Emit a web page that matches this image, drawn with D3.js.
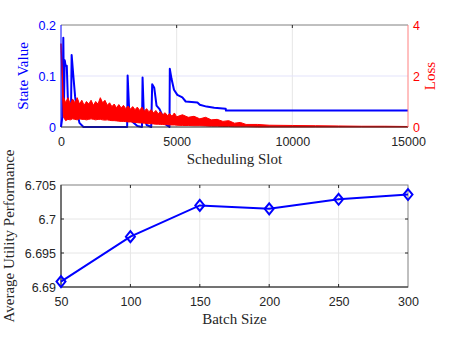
<!DOCTYPE html>
<html>
<head>
<meta charset="utf-8">
<script src="https://cdn.jsdelivr.net/npm/d3@7"></script>
<style>
  body { margin: 0; background: #fff; }
  svg text { font-family: "Liberation Sans", Arial, sans-serif; }
  .lbl { font-family: "Liberation Serif", "DejaVu Serif", serif; }
</style>
</head>
<body>
<div id="chart"></div>
<script>
// state value (blue, left axis)
var stateSlot  = [0, 60, 100, 130, 160, 200, 250, 300, 390, 430, 460, 536, 609, 681, 797, 971,
                  2860, 2880, 2950, 3100, 3300, 3500, 3526, 3583, 3700, 3900, 3942, 4030, 4130,
                  4260, 4400, 4550, 4690, 4704, 4780, 4884, 5029, 5246, 5391, 5898, 6000, 6290,
                  6623, 7121, 7130, 15000]
var stateValue = [0, 0.02, 0.175, 0.05, 0.131, 0.12, 0.12, 0.05, 0.03, 0.02, 0.141, 0.099, 0.06,
                  0.034, 0.008, 0, 0, 0.101, 0.03, 0.01, 0.002, 0, 0.097, 0.021, 0.004, 0, 0.084,
                  0.077, 0.042, 0.035, 0.021, 0.004, 0, 0.114, 0.094, 0.073, 0.063, 0.058, 0.05,
                  0.048, 0.0435, 0.04, 0.0377, 0.0357, 0.0322, 0.0322]

// loss (red, right axis): upper / lower edge of the oscillating band
var lossSlot = [0, 100, 200, 300, 400, 500, 600, 700, 800, 900, 1000, 1100, 1200, 1300, 1400,
                1500, 1600, 1700, 1800, 1900, 2000, 2100, 2200, 2300, 2400, 2500, 2600, 2700,
                2800, 2900, 3000, 3100, 3200, 3300, 3400, 3500, 3600, 3700, 3800, 3900, 4000,
                4100, 4200, 4300, 4400, 4500, 4600, 4700, 4800, 4900, 5000, 5250, 5500, 5750,
                6000, 6250, 6500, 6750, 7000, 7250, 7500, 7750, 8000, 8500, 9000, 10000, 11000,
                12000, 13000, 14000, 15000]
var lossHi   = [3.27, 1.2, 0.95, 1.15, 0.9, 1.1, 0.95, 1.15, 0.9, 1.05, 0.85, 1.0, 0.9, 1.05, 0.85,
                1.0, 0.9, 1.15, 0.95, 1.05, 0.85, 0.95, 0.8, 0.9, 0.75, 0.88, 0.75, 0.85,
                0.72, 0.82, 0.7, 0.8, 0.68, 0.78, 0.65, 0.78, 0.62, 0.72, 0.6, 0.68, 0.55,
                0.65, 0.52, 0.6, 0.48, 0.56, 0.45, 0.52, 0.42, 0.55, 0.4, 0.48, 0.38, 0.42,
                0.32, 0.38, 0.28, 0.3, 0.22, 0.25, 0.15, 0.18, 0.1, 0.1, 0.07, 0.06, 0.05,
                0.04, 0.03, 0.03, 0.02]
var lossLo   = [3.0, 0.4, 0.25, 0.3, 0.28, 0.32, 0.3, 0.28, 0.32, 0.3, 0.3, 0.28, 0.3, 0.32, 0.3,
                0.28, 0.3, 0.3, 0.28, 0.27, 0.28, 0.26, 0.25, 0.25, 0.24, 0.23, 0.22, 0.22,
                0.21, 0.2, 0.2, 0.19, 0.18, 0.17, 0.16, 0.16, 0.15, 0.14, 0.13, 0.13, 0.12,
                0.11, 0.11, 0.1, 0.1, 0.09, 0.09, 0.08, 0.08, 0.08, 0.07, 0.06, 0.06, 0.05,
                0.05, 0.04, 0.03, 0.03, 0.02, 0.02, 0.01, 0.01, 0.01, 0, 0, 0, 0,
                0, 0, 0, 0]

// bottom panel
var batchSize = [50, 100, 150, 200, 250, 300]
var utility   = [6.6908, 6.6974, 6.7020, 6.7015, 6.7029, 6.7036]

var topXTicks = [0, 5000, 10000, 15000]
var stateTicks = [0, 0.1, 0.2]
var lossTicks = [0, 2, 4]
var batchTicks = [50, 100, 150, 200, 250, 300]
var utilTicks = [6.69, 6.695, 6.7, 6.705]

var W = 451, H = 338
var blue = '#0000ff', red = '#ff0000', dark = '#262626', grid = '#e6e6e6'

var svg = d3.select('#chart').append('svg')
  .attr('width', W)
  .attr('height', H)

var left = 61, right = 408

// ---------- top panel ----------
var t = { top: 25, bottom: 127 }
var xTop = d3.scaleLinear().domain([0, 15000]).range([left, right])
var yState = d3.scaleLinear().domain([0, 0.2]).range([t.bottom, t.top])
var yLoss = d3.scaleLinear().domain([0, 4]).range([t.bottom, t.top])

var g1 = svg.append('g')

// grid
g1.selectAll('.vg').data(topXTicks.slice(1, -1)).enter().append('line')
  .attr('x1', function(d) { return xTop(d) }).attr('x2', function(d) { return xTop(d) })
  .attr('y1', t.top).attr('y2', t.bottom)
  .attr('stroke', grid).attr('stroke-width', 1)
g1.selectAll('.hg').data([0.1]).enter().append('line')
  .attr('x1', left).attr('x2', right)
  .attr('y1', function(d) { return yState(d) }).attr('y2', function(d) { return yState(d) })
  .attr('stroke', '#e3e3fb').attr('stroke-width', 1)

// state value line
g1.append('path')
  .datum(stateSlot.map(function(s, i) { return [s, stateValue[i]] }))
  .attr('fill', 'none').attr('stroke', blue).attr('stroke-width', 2)
  .attr('stroke-linejoin', 'round')
  .attr('d', d3.line()
    .x(function(d) { return xTop(d[0]) })
    .y(function(d) { return yState(d[1]) }))

// loss band
var lossData = lossSlot.map(function(s, i) { return { s: s, hi: lossHi[i], lo: lossLo[i] } })
g1.append('path')
  .datum(lossData)
  .attr('fill', red).attr('stroke', red).attr('stroke-width', 1)
  .attr('d', d3.area()
    .x(function(d) { return xTop(d.s) })
    .y0(function(d) { return yLoss(d.lo) })
    .y1(function(d) { return yLoss(d.hi) }))

// box
g1.append('line').attr('x1', left).attr('x2', right).attr('y1', t.top).attr('y2', t.top)
  .attr('stroke', '#808080')
g1.append('line').attr('x1', left).attr('x2', right).attr('y1', t.bottom).attr('y2', t.bottom)
  .attr('stroke', dark)
g1.append('line').attr('x1', left).attr('x2', left).attr('y1', t.top).attr('y2', t.bottom)
  .attr('stroke', blue)
g1.append('line').attr('x1', right).attr('x2', right).attr('y1', t.top).attr('y2', t.bottom)
  .attr('stroke', '#ff8080')

// axes
var xAxisTop = d3.axisBottom(xTop).tickValues(topXTicks).tickFormat(d3.format('d')).tickSize(0).tickPadding(10)
g1.append('g').attr('transform', 'translate(0,' + t.bottom + ')').call(xAxisTop)
  .call(function(a) {
    a.select('.domain').remove()
    a.selectAll('text').attr('fill', dark).style('font-size', '12.5px')
  })
var yAxisState = d3.axisLeft(yState).tickValues(stateTicks).tickFormat(d3.format('')).tickSize(0).tickPadding(5)
g1.append('g').attr('transform', 'translate(' + left + ',0)').call(yAxisState)
  .call(function(a) {
    a.select('.domain').remove()
    a.selectAll('text').attr('fill', blue).style('font-size', '12.5px')
  })
var yAxisLoss = d3.axisRight(yLoss).tickValues(lossTicks).tickFormat(d3.format('d')).tickSize(0).tickPadding(5)
g1.append('g').attr('transform', 'translate(' + right + ',0)').call(yAxisLoss)
  .call(function(a) {
    a.select('.domain').remove()
    a.selectAll('text').attr('fill', red).style('font-size', '12.5px')
  })
// small tick marks
topXTicks.slice(1, -1).forEach(function(d) {
  g1.append('line').attr('x1', xTop(d)).attr('x2', xTop(d)).attr('y1', t.top).attr('y2', t.top + 3).attr('stroke', dark)
})

svg.append('text').attr('class', 'lbl')
  .attr('x', (left + right) / 2).attr('y', 164)
  .attr('text-anchor', 'middle').attr('fill', dark).style('font-size', '15px')
  .text('Scheduling Slot')
svg.append('text').attr('class', 'lbl')
  .attr('transform', 'translate(28,' + ((t.top + t.bottom) / 2) + ') rotate(-90)')
  .attr('text-anchor', 'middle').attr('fill', blue).style('font-size', '15px')
  .text('State Value')
svg.append('text').attr('class', 'lbl')
  .attr('transform', 'translate(435,' + ((t.top + t.bottom) / 2) + ') rotate(-90)')
  .attr('text-anchor', 'middle').attr('fill', red).style('font-size', '15px')
  .text('Loss')

// ---------- bottom panel ----------
var b = { top: 185, bottom: 287 }
var xB = d3.scaleLinear().domain([50, 300]).range([left, right])
var yB = d3.scaleLinear().domain([6.69, 6.705]).range([b.bottom, b.top])

var g2 = svg.append('g')
g2.selectAll('.vg').data(batchTicks.slice(1, -1)).enter().append('line')
  .attr('x1', function(d) { return xB(d) }).attr('x2', function(d) { return xB(d) })
  .attr('y1', b.top).attr('y2', b.bottom)
  .attr('stroke', grid)
g2.selectAll('.hg').data(utilTicks.slice(1, -1)).enter().append('line')
  .attr('x1', left).attr('x2', right)
  .attr('y1', function(d) { return yB(d) }).attr('y2', function(d) { return yB(d) })
  .attr('stroke', grid)

g2.append('rect').attr('x', left).attr('y', b.top)
  .attr('width', right - left).attr('height', b.bottom - b.top)
  .attr('fill', 'none').attr('stroke', '#808080')
g2.append('line').attr('x1', left).attr('x2', right).attr('y1', b.bottom).attr('y2', b.bottom).attr('stroke', dark)
g2.append('line').attr('x1', left).attr('x2', left).attr('y1', b.top).attr('y2', b.bottom).attr('stroke', dark)

batchTicks.slice(1, -1).forEach(function(d) {
  g2.append('line').attr('x1', xB(d)).attr('x2', xB(d)).attr('y1', b.bottom).attr('y2', b.bottom - 3).attr('stroke', dark)
  g2.append('line').attr('x1', xB(d)).attr('x2', xB(d)).attr('y1', b.top).attr('y2', b.top + 3).attr('stroke', dark)
})
utilTicks.slice(1, -1).forEach(function(d) {
  g2.append('line').attr('x1', left).attr('x2', left + 3).attr('y1', yB(d)).attr('y2', yB(d)).attr('stroke', dark)
  g2.append('line').attr('x1', right).attr('x2', right - 3).attr('y1', yB(d)).attr('y2', yB(d)).attr('stroke', dark)
})

var pts = batchSize.map(function(s, i) { return [s, utility[i]] })
g2.append('path').datum(pts)
  .attr('fill', 'none').attr('stroke', blue).attr('stroke-width', 2)
  .attr('d', d3.line().x(function(d) { return xB(d[0]) }).y(function(d) { return yB(d[1]) }))
g2.selectAll('.mk').data(pts).enter().append('path')
  .attr('transform', function(d) { return 'translate(' + xB(d[0]) + ',' + yB(d[1]) + ')' })
  .attr('d', 'M0,-5.5L4.5,0L0,5.5L-4.5,0Z')
  .attr('fill', 'none').attr('stroke', blue).attr('stroke-width', 2)

var xAxisB = d3.axisBottom(xB).tickValues(batchTicks).tickSize(0).tickPadding(10)
g2.append('g').attr('transform', 'translate(0,' + b.bottom + ')').call(xAxisB)
  .call(function(a) {
    a.select('.domain').remove()
    a.selectAll('text').attr('fill', dark).style('font-size', '12.5px')
  })
var yAxisB = d3.axisLeft(yB).tickValues(utilTicks).tickFormat(d3.format('')).tickSize(0).tickPadding(5)
g2.append('g').attr('transform', 'translate(' + left + ',0)').call(yAxisB)
  .call(function(a) {
    a.select('.domain').remove()
    a.selectAll('text').attr('fill', dark).style('font-size', '12.5px')
  })

svg.append('text').attr('class', 'lbl')
  .attr('x', (left + right) / 2).attr('y', 324)
  .attr('text-anchor', 'middle').attr('fill', dark).style('font-size', '15px')
  .text('Batch Size')
svg.append('text').attr('class', 'lbl')
  .attr('transform', 'translate(14,' + ((b.top + b.bottom) / 2) + ') rotate(-90)')
  .attr('text-anchor', 'middle').attr('fill', dark).style('font-size', '15px')
  .text('Average Utility Performance')
</script>
</body>
</html>
